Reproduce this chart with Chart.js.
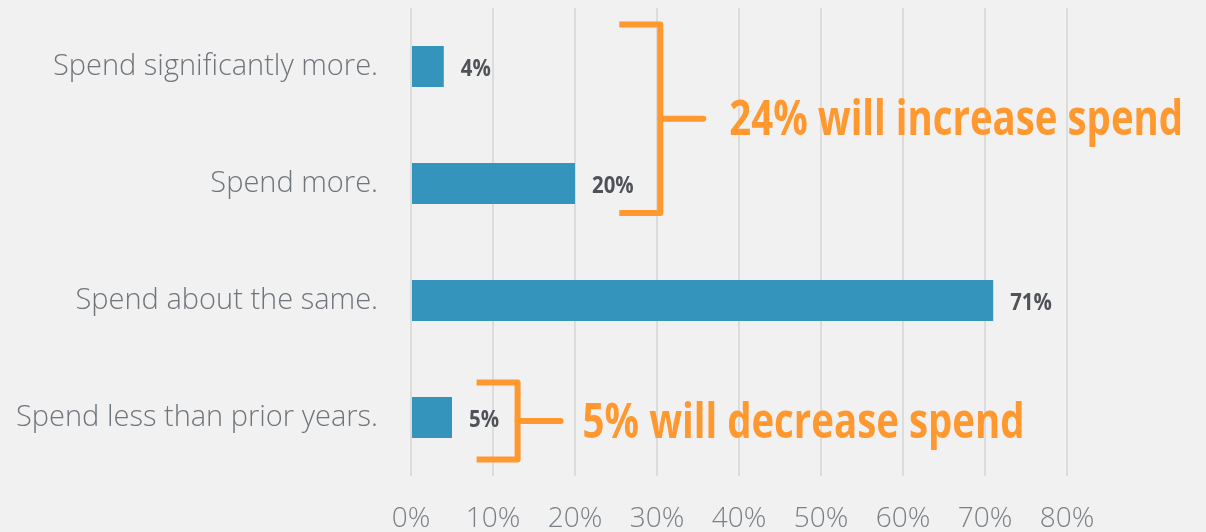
<!DOCTYPE html>
<html>
<head>
<meta charset="utf-8">
<script src="https://cdn.jsdelivr.net/npm/chart.js@4/dist/chart.umd.min.js"></script>
<style>
  html, body { margin: 0; padding: 0; background: #f1f1f1; }
  #wrap { width: 1206px; height: 532px; position: relative; }
</style>
</head>
<body>
<div id="wrap"><canvas id="c" width="1206" height="532"></canvas></div>
<script>
// Survey answers and their shares (%)
const categories = [
  'Spend significantly more.',
  'Spend more.',
  'Spend about the same.',
  'Spend less than prior years.'
];
const shares = [4, 20, 71, 5];
const xTicks = [0, 10, 20, 30, 40, 50, 60, 70, 80];

// Bracket call-outs: which rows they group, where they stand on the x axis, and their text
const groupIncrease = { rows: [0, 1], atValue: 30.4, text: '24% will increase spend' };
const groupDecrease = { rows: [3, 3], atValue: 13, text: '5% will decrease spend' };

const ORANGE = '#ff982f';
const BAR = '#3594bc';

// Draw text squeezed horizontally to give a condensed bold face
function condensedText(ctx, text, x, y, size, color, squeeze) {
  ctx.save();
  ctx.font = `700 ${size}px "Open Sans"`;
  ctx.fillStyle = color;
  ctx.textBaseline = 'alphabetic';
  ctx.textAlign = 'left';
  ctx.translate(x, y);
  ctx.scale(squeeze, 1);
  ctx.fillText(text, 0, 0);
  ctx.restore();
}

const annotations = {
  id: 'annotations',
  afterDatasetsDraw(chart) {
    const ctx = chart.ctx;
    const meta = chart.getDatasetMeta(0);
    const xs = chart.scales.x;

    // value labels at the end of each bar
    meta.data.forEach((bar, i) => {
      condensedText(ctx, shares[i] + '%', bar.x + 17, bar.y + 9, 24, '#4f5358', 0.85);
    });

    function bracket(group, topOff, botOff, armLen, tickLen, textGap, textSize, baselineOff) {
      const yTop = meta.data[group.rows[0]].y + topOff;
      const yBot = meta.data[group.rows[1]].y + botOff;
      const yMid = (yTop + yBot) / 2;
      const x = xs.getPixelForValue(group.atValue);
      ctx.save();
      ctx.strokeStyle = ORANGE;
      ctx.lineWidth = 6;
      ctx.lineJoin = 'round';
      ctx.lineCap = 'butt';
      ctx.beginPath();
      ctx.moveTo(x - armLen, yTop);
      ctx.lineTo(x, yTop);
      ctx.lineTo(x, yBot);
      ctx.lineTo(x - armLen, yBot);
      ctx.stroke();
      ctx.lineCap = 'round';
      ctx.beginPath();
      ctx.moveTo(x, yMid);
      ctx.lineTo(x + tickLen, yMid);
      ctx.stroke();
      ctx.restore();
      condensedText(ctx, group.text, x + tickLen + textGap, yMid + baselineOff, textSize, ORANGE, 0.8);
    }

    bracket(groupIncrease, -42, 29.5, 41, 43, 26, 48, 16);
    bracket(groupDecrease, -35, 42, 41, 43, 22, 48, 17);
  }
};

new Chart(document.getElementById('c'), {
  type: 'bar',
  data: {
    labels: categories,
    datasets: [{
      data: shares,
      backgroundColor: BAR,
      borderWidth: 0,
      barPercentage: 0.35,
      categoryPercentage: 1
    }]
  },
  options: {
    indexAxis: 'y',
    responsive: false,
    animation: false,
    layout: { padding: { top: 8, right: 139, left: 0, bottom: 0 } },
    plugins: { legend: { display: false }, tooltip: { enabled: false } },
    scales: {
      x: {
        min: 0,
        max: 80,
        afterBuildTicks(scale) { scale.ticks = xTicks.map(v => ({ value: v })); },
        afterFit(scale) { scale.height = 56; },
        grid: { color: '#dcdcdc', lineWidth: 2, drawTicks: false },
        border: { display: false },
        ticks: {
          padding: 26,
          color: '#7b8086',
          font: { family: '"Open Sans"', size: 28, weight: 300 },
          callback: v => v + '%'
        }
      },
      y: {
        afterFit(scale) {
          scale.width = 411;
          scale.paddingTop = 0;
          scale.paddingBottom = 0;
        },
        grid: { display: false, drawTicks: false },
        border: { display: false },
        ticks: {
          padding: 33,
          color: '#6f757b',
          font: { family: '"Open Sans"', size: 29, weight: 300 }
        }
      }
    }
  },
  plugins: [annotations]
});
</script>
</body>
</html>
